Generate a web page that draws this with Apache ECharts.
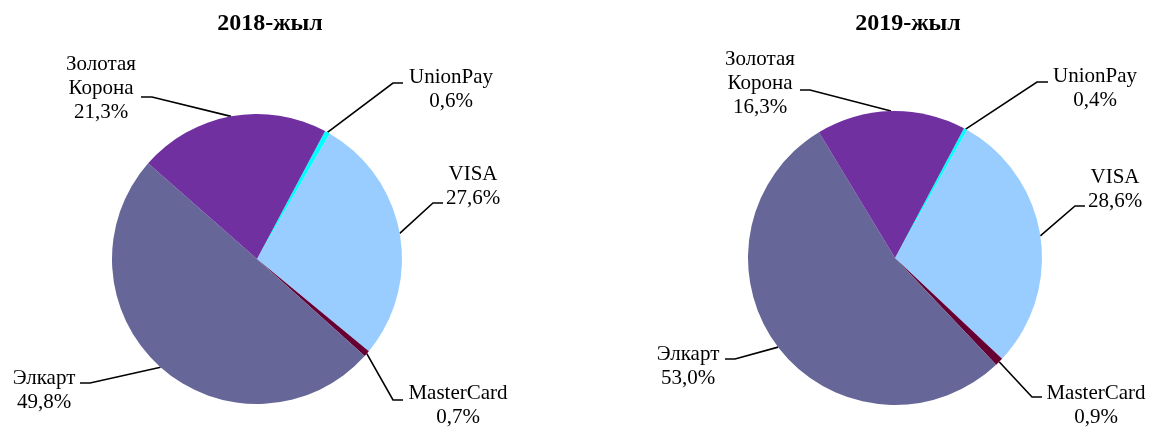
<!DOCTYPE html>
<html>
<head>
<meta charset="utf-8">
<script src="https://cdn.jsdelivr.net/npm/echarts@6/dist/echarts.min.js"></script>
<style>
html,body{margin:0;padding:0;background:#fff;}
#chart{width:1149px;height:430px;}
</style>
</head>
<body>
<div id="chart"></div>
<script>
// ---- data ----
var categories = ['UnionPay', 'VISA', 'MasterCard', 'Элкарт', 'Золотая Корона'];
var values2018 = [0.6, 27.6, 0.7, 49.8, 21.3];
var values2019 = [0.4, 28.6, 0.9, 53.0, 16.3];
var titles = ['2018-жыл', '2019-жыл'];
var colors = ['#00FFFF', '#99CCFF', '#660033', '#666699', '#7030A0'];

// ---- layout (positions, not data) ----
var START_ANGLE = 62;
var pies = [
  { center: [257, 259], radius: 145, titleX: 265 },
  { center: [895, 258], radius: 147, titleX: 903 }
];
// label centre (x,y) and leader line bend / end per slice
var labelPos = [
  [
    { x: 451, y: 89, bend: [393, 83], end: [403, 83] },
    { x: 473, y: 186, bend: [433, 203], end: [443, 203] },
    { x: 458, y: 405, bend: [393, 400], end: [403, 400] },
    { x: 44, y: 390, bend: [90, 383], end: [80, 383] },
    { x: 101, y: 88, bend: [152, 97], end: [141, 97] }
  ],
  [
    { x: 1095, y: 88, bend: [1037, 82], end: [1048, 82] },
    { x: 1115, y: 189, bend: [1075, 206], end: [1085, 206] },
    { x: 1096, y: 405, bend: [1032, 397], end: [1042, 397] },
    { x: 688, y: 366, bend: [735, 359], end: [725, 359] },
    { x: 760, y: 83, bend: [810, 90], end: [800, 90] }
  ]
];
var allValues = [values2018, values2019];

function arcMid(si, di) {
  var vals = allValues[si];
  var total = vals.reduce(function (a, b) { return a + b; }, 0);
  var before = 0;
  for (var i = 0; i < di; i++) before += vals[i];
  var mid = (before + vals[di] / 2) / total * 360; // clockwise from start
  var ang = (START_ANGLE - mid) * Math.PI / 180;
  var p = pies[si];
  return [p.center[0] + p.radius * Math.cos(ang), p.center[1] - p.radius * Math.sin(ang)];
}

function makeSeries(si) {
  var vals = allValues[si];
  return {
    type: 'pie',
    center: pies[si].center,
    radius: pies[si].radius,
    startAngle: START_ANGLE,
    clockwise: true,
    avoidLabelOverlap: false,
    silent: true,
    animation: false,
    itemStyle: { borderWidth: 0 },
    emphasis: { disabled: true },
    label: {
      show: true,
      position: 'outside',
      color: '#000',
      fontFamily: 'Liberation Serif',
      fontSize: 21,
      lineHeight: 24,
      align: 'center',
      formatter: function (p) {
        return p.name.replace(' ', '\n') + '\n' + p.value.toFixed(1).replace('.', ',') + '%';
      }
    },
    labelLine: {
      show: true,
      length: 10,
      length2: 10,
      lineStyle: { color: '#000', width: 1.6 }
    },
    labelLayout: function (params) {
      var cfg = labelPos[si][params.dataIndex];
      return {
        x: cfg.x,
        y: cfg.y,
        align: 'center',
        verticalAlign: 'middle',
        labelLinePoints: [arcMid(si, params.dataIndex), cfg.bend, cfg.end]
      };
    },
    data: categories.map(function (c, i) {
      return { name: c, value: vals[i], itemStyle: { color: colors[i] } };
    })
  };
}

var chart = echarts.init(document.getElementById('chart'), null, { renderer: 'canvas' });
chart.setOption({
  backgroundColor: '#fff',
  animation: false,
  title: titles.map(function (t, i) {
    return {
      text: t,
      left: pies[i].titleX,
      top: 7,
      textAlign: 'center',
      textStyle: { fontFamily: 'Liberation Serif', fontWeight: 'bold', fontSize: 24, color: '#000' }
    };
  }),
  series: [makeSeries(0), makeSeries(1)]
});
</script>
</body>
</html>
